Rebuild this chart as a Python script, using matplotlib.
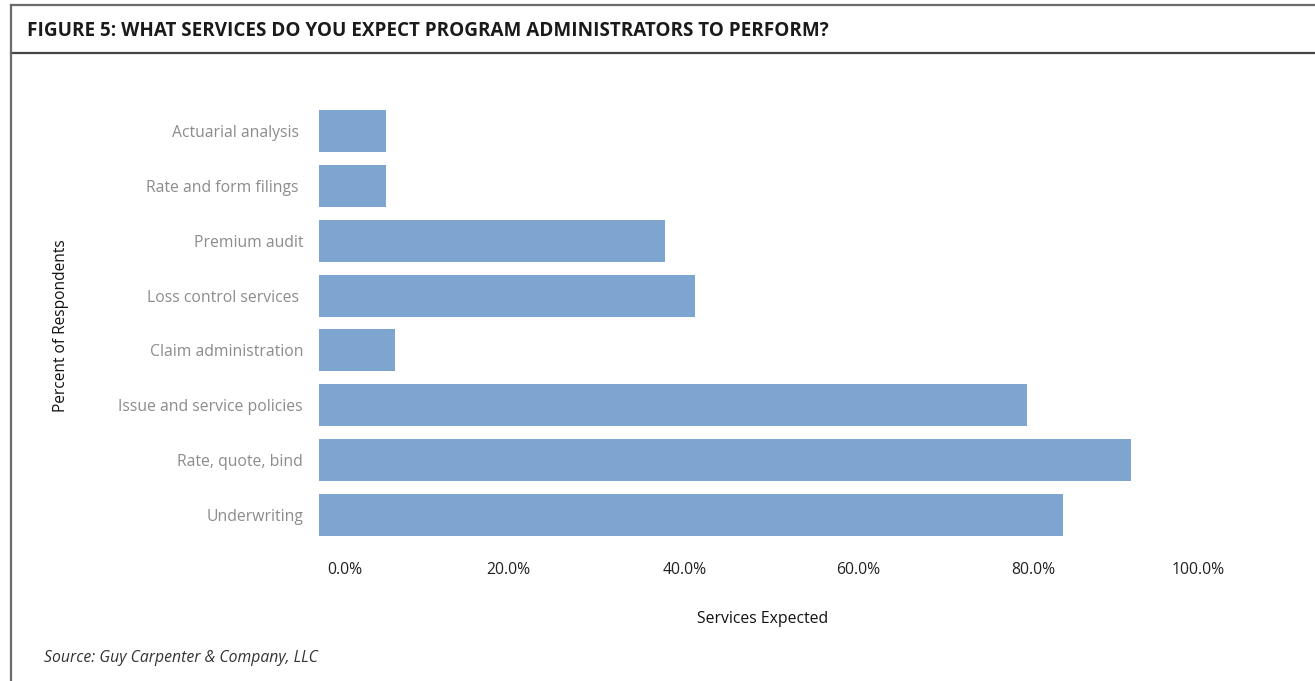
import matplotlib
matplotlib.use("Agg")
import matplotlib.pyplot as plt
from matplotlib.lines import Line2D
from matplotlib.transforms import ScaledTranslation, blended_transform_factory

plt.rcParams['font.family'] = ['Open Sans', 'DejaVu Sans']

# Survey data: share of respondents expecting each service (percent)
services = [
    "Underwriting",
    "Rate, quote, bind",
    "Issue and service policies",
    "Claim administration",
    "Loss control services ",
    "Premium audit",
    "Rate and form filings ",
    "Actuarial analysis ",
]
share_pct = [84.9, 92.7, 80.8, 8.7, 42.9, 39.5, 7.65, 7.65]

x_ticks = [0, 20, 40, 60, 80, 100]
x_tick_labels = ["0.0%", "20.0%", "40.0%", "60.0%", "80.0%", "100.0%"]

title = "FIGURE 5: WHAT SERVICES DO YOU EXPECT PROGRAM ADMINISTRATORS TO PERFORM?"
source = "Source: Guy Carpenter & Company, LLC"

W, H = 1315, 681
fig = plt.figure(figsize=(W / 100, H / 100), dpi=100)
fig.patch.set_facecolor("white")

# plot area in pixel terms
ax_left, ax_right = 319, 1195
ax_top, ax_bottom = 103.6, 542.4
ax = fig.add_axes([ax_left / W, 1 - ax_bottom / H,
                   (ax_right - ax_left) / W, (ax_bottom - ax_top) / H])

bar_color = "#7ea5cf"
ypos = list(range(len(services)))
ax.barh(ypos, share_pct, height=0.766, color=bar_color, edgecolor="none")

ax.set_xlim(0, 100)
ax.set_ylim(-0.5, len(services) - 0.5)
for s in ax.spines.values():
    s.set_visible(False)
ax.tick_params(axis="both", length=0)
ax.set_xticks([])
ax.set_yticks(ypos)
ax.set_yticklabels(services, color="#8c8c8c", fontsize=11.3)
ax.tick_params(axis="y", pad=11.5)

# percentage labels under the plot, nudged like the original layout
label_shift_px = [26, 14, 15, 14, 14, 3]
xt = blended_transform_factory(ax.transData, ax.transAxes)
for v, lab, dx in zip(x_ticks, x_tick_labels, label_shift_px):
    tr = xt + ScaledTranslation(dx / 100, -27.6 / 100, fig.dpi_scale_trans)
    ax.text(v, 0, lab, transform=tr, ha="center", va="center",
            fontsize=11.3, color="#222222")

fig.text(763 / W, 1 - 619 / H, "Services Expected", ha="center", va="center",
         fontsize=11.3, color="#111111")
fig.text(61 / W, 1 - 326 / H, "Percent of Respondents", ha="center", va="center",
         rotation=90, fontsize=11.2, color="#111111")

# header and frame
fig.text(27 / W, 1 - 31.5 / H, title, ha="left", va="center",
         fontsize=13.6, fontweight="bold", color="#1a1a1a")
fig.text(44 / W, 1 - 658 / H, source, ha="left", va="center",
         fontsize=11.3, style="italic", color="#333333")

fig.add_artist(Line2D([11 / W, 1], [1 - 4.7 / H, 1 - 4.7 / H],
                      transform=fig.transFigure, color="#6b6b6b", lw=1.6))
fig.add_artist(Line2D([11 / W, 1], [1 - 52.7 / H, 1 - 52.7 / H],
                      transform=fig.transFigure, color="#444444", lw=1.6))
fig.add_artist(Line2D([11 / W, 11 / W], [1 - 4.7 / H, 0],
                      transform=fig.transFigure, color="#6b6b6b", lw=1.6))

fig.savefig("out.png", dpi=100)
